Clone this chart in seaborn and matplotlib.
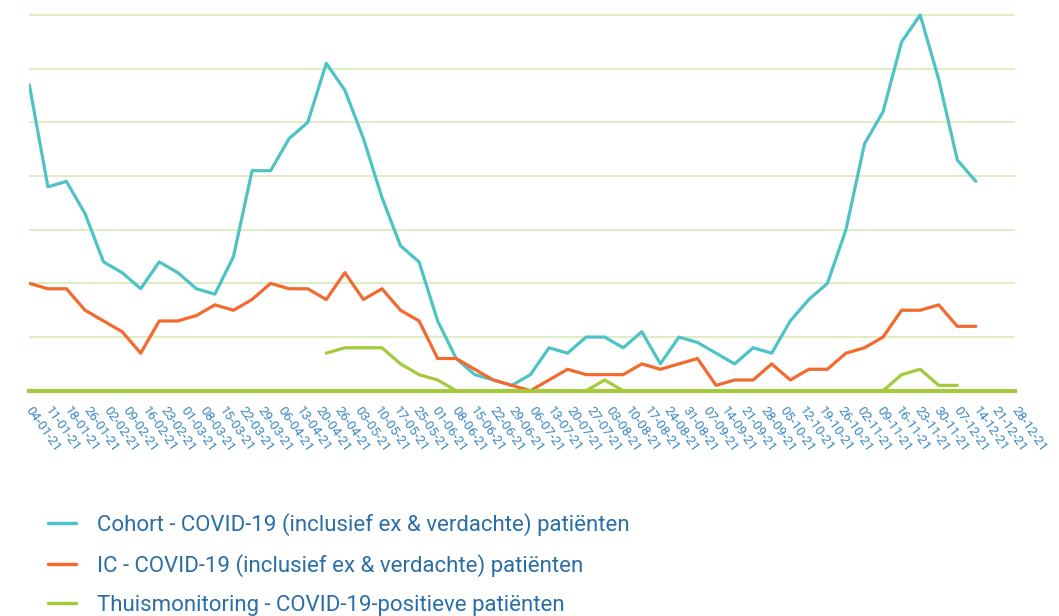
import numpy as np
import pandas as pd
import matplotlib
matplotlib.use("Agg")
import matplotlib.pyplot as plt
import matplotlib.transforms as mtransforms
import seaborn as sns

# ---- data ----
week_labels = [
    "04-01-21", "11-01-21", "18-01-21", "26-01-21", "02-02-21", "09-02-21", "16-02-21",
    "23-02-21", "01-03-21", "08-03-21", "15-03-21", "22-03-21", "29-03-21", "06-04-21",
    "13-04-21", "20-04-21", "26-04-21", "03-05-21", "10-05-21", "17-05-21", "25-05-21",
    "01-06-21", "08-06-21", "15-06-21", "22-06-21", "29-06-21", "06-07-21", "13-07-21",
    "20-07-21", "27-07-21", "03-08-21", "10-08-21", "17-08-21", "24-08-21", "31-08-21",
    "07-09-21", "14-09-21", "21-09-21", "28-09-21", "05-10-21", "12-10-21", "19-10-21",
    "26-10-21", "02-11-21", "09-11-21", "16-11-21", "23-11-21", "30-11-21", "07-12-21",
    "14-12-21", "21-12-21", "28-12-21",
]

cohort = [57, 38, 39, 33, 24, 22, 19, 24, 22, 19, 18, 25, 41, 41, 47, 50, 61, 56, 47, 36,
          27, 24, 13, 6, 3, 2, 1, 3, 8, 7, 10, 10, 8, 11, 5, 10, 9, 7, 5, 8,
          7, 13, 17, 20, 30, 46, 52, 65, 70, 58, 43, 39]

ic = [20, 19, 19, 15, 13, 11, 7, 13, 13, 14, 16, 15, 17, 20, 19, 19, 17, 22, 17, 19,
      15, 13, 6, 6, 4, 2, 1, 0, 2, 4, 3, 3, 3, 5, 4, 5, 6, 1, 2, 2,
      5, 2, 4, 4, 7, 8, 10, 15, 15, 16, 12, 12]

thuis = [None] * 16 + [7, 8, 8, 8, 5, 3, 2, 0, 0, 0, 0, 0, 0, 0, 0, 2, 0, 0, 0, 0,
                       0, 0, 0, 0, 0, 0, 0, 0, 0, 0, 0, 3, 4, 1, 1]

series_names = [
    "Cohort - COVID-19 (inclusief ex & verdachte) patiënten",
    "IC - COVID-19 (inclusief ex & verdachte) patiënten",
    "Thuismonitoring - COVID-19-positieve patiënten",
]
colors = ["#4dc3c5", "#f26a2e", "#a5c93d"]

# ---- build long table ----
rows = []
for name, vals in zip(series_names, [cohort, ic, thuis]):
    for i, v in enumerate(vals):
        if v is not None:
            rows.append({"week": i, "value": v, "serie": name})
df = pd.DataFrame(rows)

sns.set_theme(style="white")
plt.rcParams["font.family"] = ["Roboto", "DejaVu Sans"]

fig = plt.figure(figsize=(10.59, 6.16), dpi=100)
ax = fig.add_axes([0.0277, 0.3657, 0.9306, 0.6273])

sns.lineplot(data=df, x="week", y="value", hue="serie", hue_order=series_names,
             palette=colors, linewidth=2.3, ax=ax, legend=True, zorder=3)

ax.set_xlim(0, 53.1)
ax.set_ylim(0, 72)
ax.set_yticks(np.arange(10, 71, 10))
ax.set_yticklabels([])
ax.tick_params(axis="y", length=0)
ax.grid(axis="y", color="#e0edc2", linewidth=1.4, zorder=0)
ax.grid(axis="x", visible=False)
for s in ["top", "right", "left"]:
    ax.spines[s].set_visible(False)
ax.spines["bottom"].set_color("#a5c93d")
ax.spines["bottom"].set_linewidth(3)
ax.spines["bottom"].set_zorder(4)

ax.set_xticks(np.linspace(0, 53.1, len(week_labels)))
ax.set_xticklabels(week_labels, rotation=-55, ha="left", va="top",
                   rotation_mode="anchor", fontsize=9.5, color="#3b89c2")
ax.tick_params(axis="x", length=0, pad=10)
shift = mtransforms.ScaledTranslation(0.045, 0, fig.dpi_scale_trans)
for lab in ax.get_xticklabels():
    lab.set_transform(lab.get_transform() + shift)
ax.set_xlabel("")
ax.set_ylabel("")

sns.move_legend(ax, loc="upper left", bbox_to_anchor=(0.0264, 0.200),
                bbox_transform=fig.transFigure, frameon=False, title=None,
                fontsize=16, handlelength=1.26, handletextpad=0.95, labelspacing=0.82)
leg = ax.get_legend()
for t in leg.get_texts():
    t.set_color("#2a6ea7")
for h in leg.legend_handles:
    h.set_linewidth(2.5)

fig.savefig("out.png", dpi=100, facecolor="white")
